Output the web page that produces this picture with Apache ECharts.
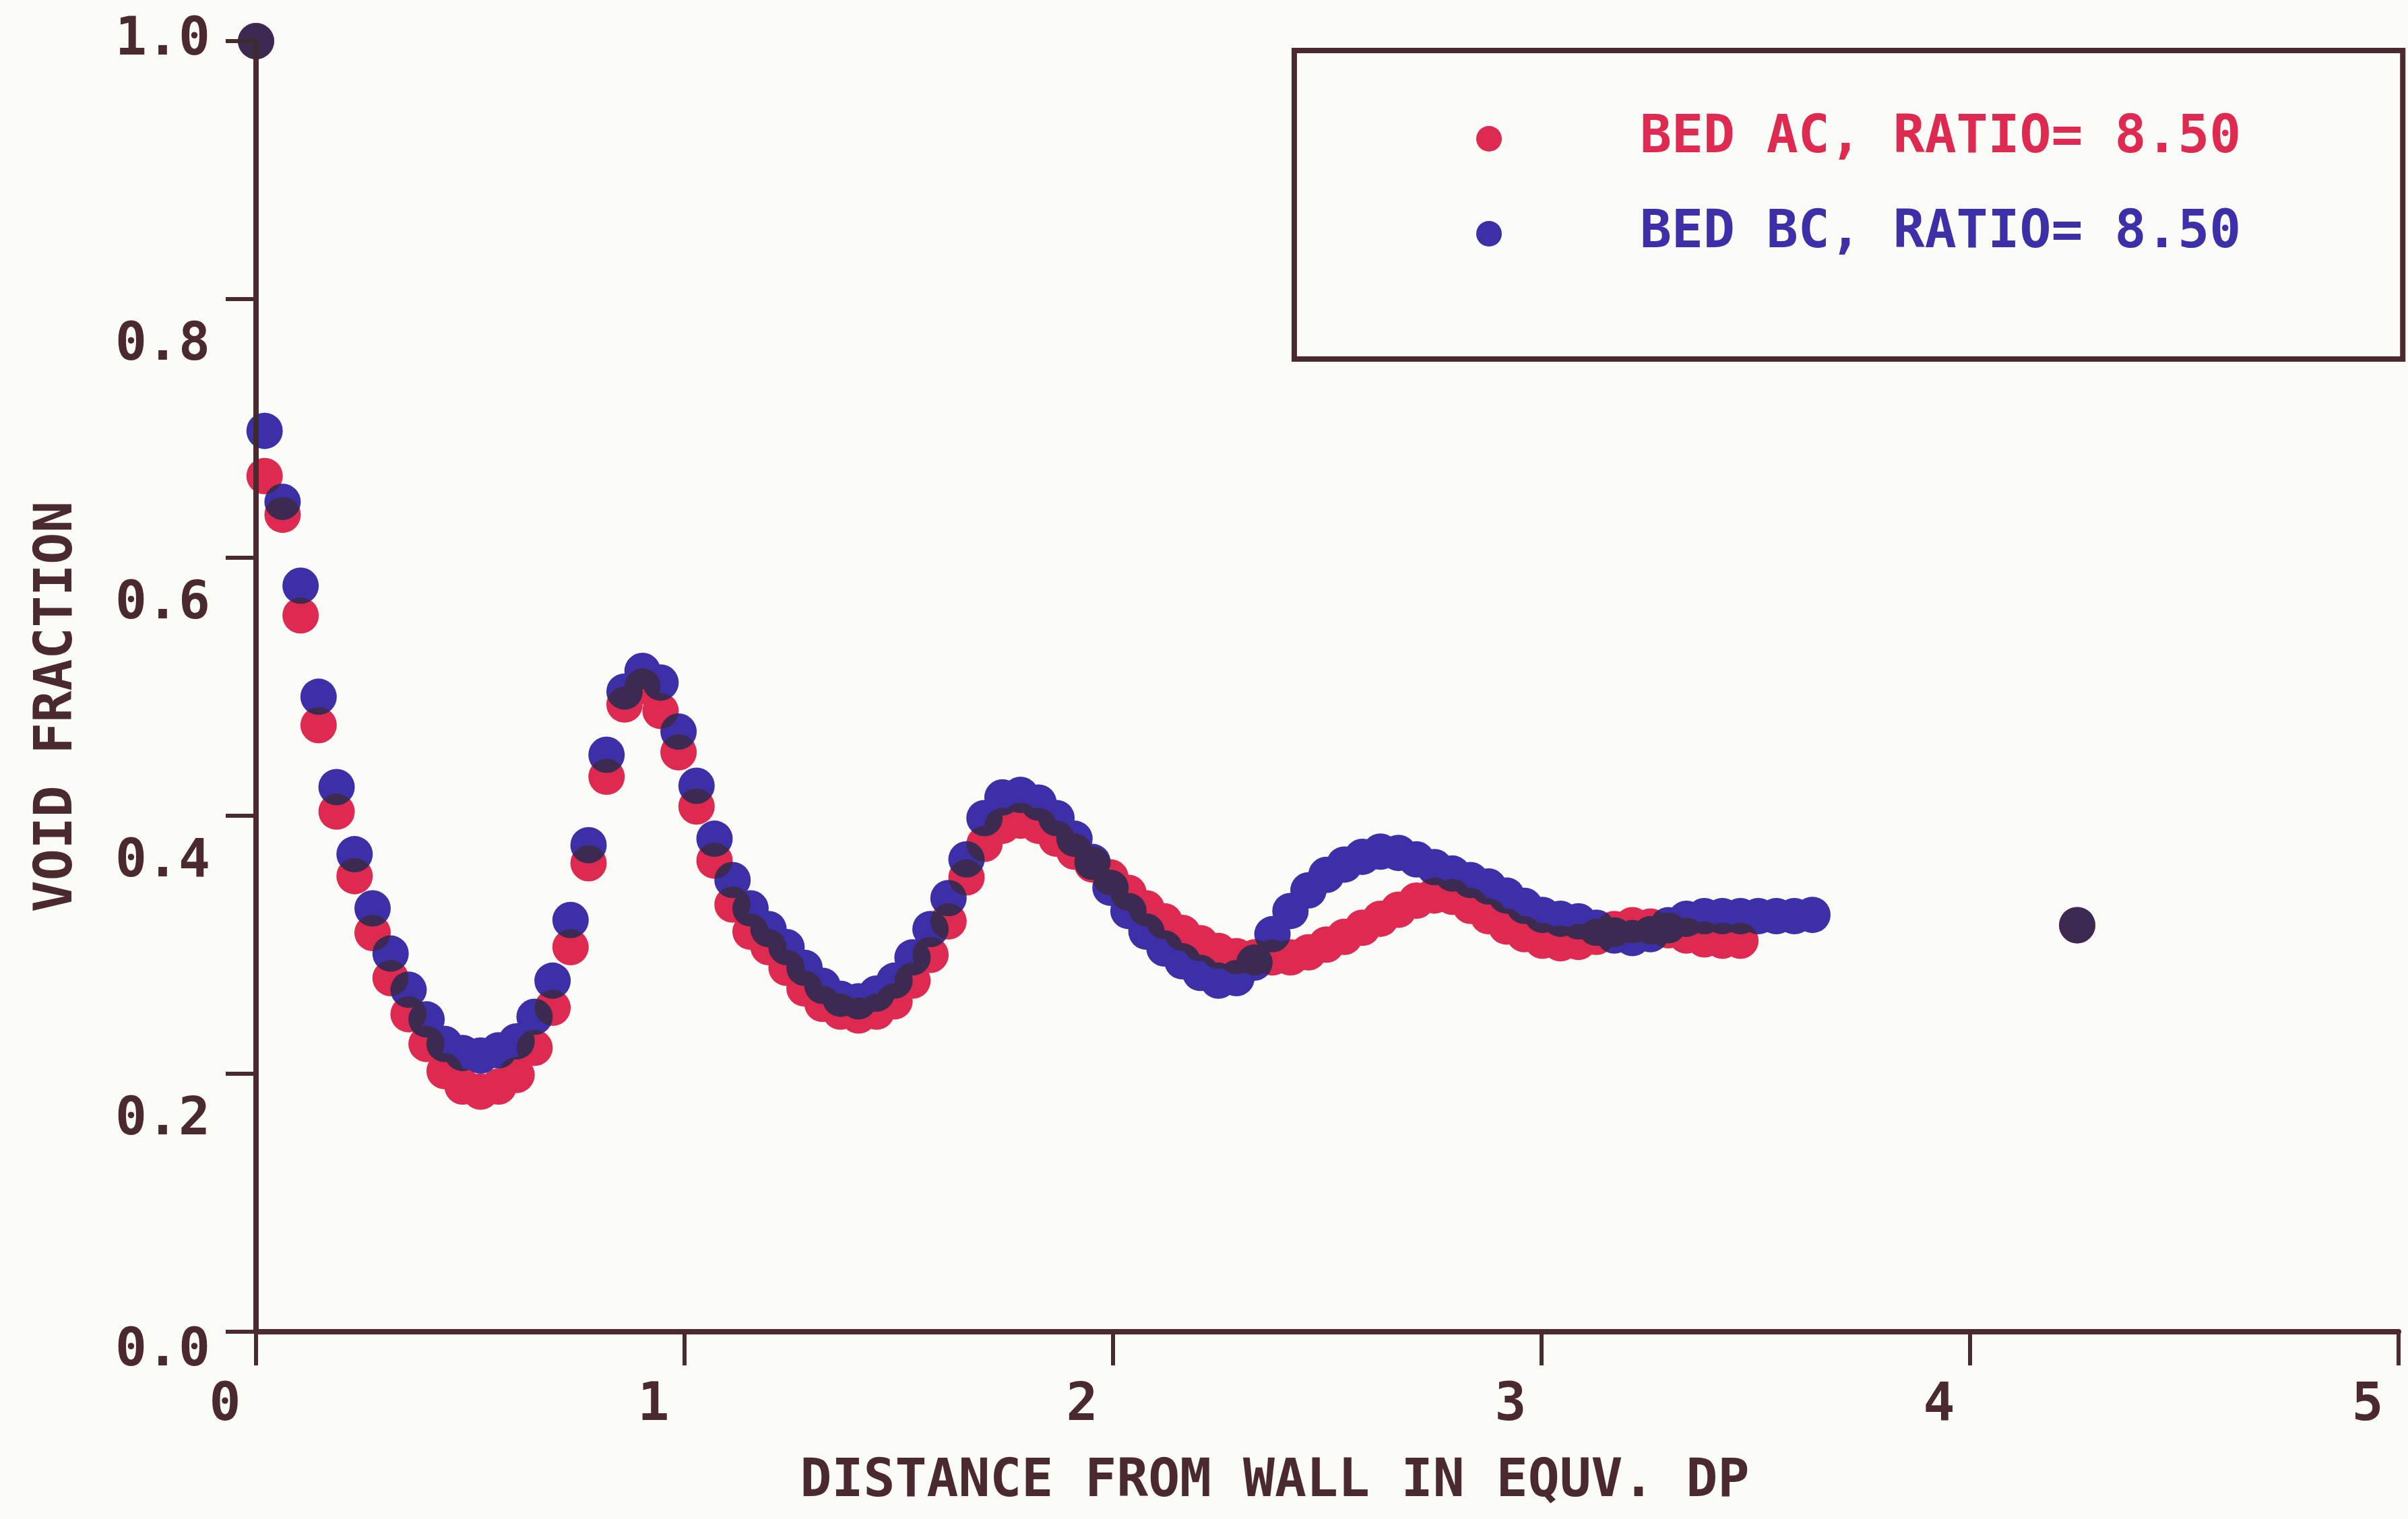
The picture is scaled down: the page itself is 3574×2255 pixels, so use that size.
<!DOCTYPE html>
<html>
<head>
<meta charset="utf-8">
<title>Void fraction profile</title>
<script src="https://cdn.jsdelivr.net/npm/echarts@6/dist/echarts.min.js"></script>
<style>
  html, body { margin: 0; padding: 0; background: #fbfbf7; }
  #chart { width: 3574px; height: 2255px; }
</style>
</head>
<body>
<div id="chart"></div>
<script>
  // distance from wall (equivalent particle diameters), one entry per measured ring
  const dist = [
    0.020, 0.062, 0.104, 0.146, 0.188, 0.230, 0.272, 0.314, 0.356, 0.398,
    0.440, 0.482, 0.524, 0.566, 0.608, 0.650, 0.692, 0.734, 0.776, 0.818,
    0.860, 0.902, 0.944, 0.986, 1.028, 1.070, 1.112, 1.154, 1.196, 1.238,
    1.280, 1.322, 1.364, 1.406, 1.448, 1.490, 1.532, 1.574, 1.616, 1.658,
    1.700, 1.742, 1.784, 1.826, 1.868, 1.910, 1.952, 1.994, 2.036, 2.078,
    2.120, 2.162, 2.204, 2.246, 2.288, 2.330, 2.372, 2.414, 2.456, 2.498,
    2.540, 2.582, 2.624, 2.666, 2.708, 2.750, 2.792, 2.834, 2.876, 2.918,
    2.960, 3.002, 3.044, 3.086, 3.128, 3.170, 3.212, 3.254, 3.296, 3.338,
    3.380, 3.422, 3.464, 3.506, 3.548, 3.590, 3.632
  ];

  // bed AC void fraction
  const voidAC = [
    0.663, 0.633, 0.555, 0.470, 0.403, 0.353, 0.309, 0.274, 0.246, 0.223,
    0.202, 0.190, 0.186, 0.190, 0.199, 0.220, 0.251, 0.298, 0.363, 0.430,
    0.486, 0.500, 0.481, 0.449, 0.407, 0.365, 0.331, 0.310, 0.298, 0.282,
    0.266, 0.254, 0.248, 0.245, 0.248, 0.256, 0.272, 0.292, 0.318, 0.352,
    0.378, 0.392, 0.396, 0.392, 0.382, 0.372, 0.362, 0.352, 0.340, 0.328,
    0.318, 0.309, 0.301, 0.295, 0.291, 0.290, 0.290, 0.290, 0.294, 0.300,
    0.306, 0.313, 0.320, 0.327, 0.334, 0.338, 0.337, 0.330, 0.322, 0.314,
    0.308, 0.303, 0.301, 0.302, 0.306, 0.312, 0.315, 0.314, 0.311, 0.307,
    0.304, 0.303, 0.303
  ];

  // bed BC void fraction
  const voidBC = [
    0.698, 0.643, 0.578, 0.492, 0.422, 0.370, 0.328, 0.293, 0.265, 0.242,
    0.223, 0.216, 0.214, 0.218, 0.225, 0.244, 0.272, 0.319, 0.377, 0.447,
    0.496, 0.512, 0.503, 0.465, 0.423, 0.382, 0.350, 0.328, 0.312, 0.298,
    0.282, 0.268, 0.258, 0.256, 0.262, 0.272, 0.290, 0.312, 0.336, 0.366,
    0.398, 0.414, 0.416, 0.410, 0.398, 0.382, 0.364, 0.344, 0.326, 0.310,
    0.297, 0.287, 0.278, 0.272, 0.274, 0.286, 0.308, 0.326, 0.342, 0.354,
    0.362, 0.368, 0.372, 0.371, 0.366, 0.360, 0.355, 0.350, 0.345, 0.338,
    0.330, 0.323, 0.320, 0.318, 0.313, 0.307, 0.305, 0.308, 0.315, 0.320,
    0.322, 0.322, 0.322, 0.322, 0.322, 0.322, 0.323
  ];

  // wall point and bed-centre point, shared by both beds
  const wallPoint = [0, 1.0];
  const centrePoint = [4.25, 0.315];

  const names = ['BED AC, RATIO= 8.50', 'BED BC, RATIO= 8.50'];
  const xTicks = [0, 1, 2, 3, 4, 5];

  const red = '#de2a50';
  const blue = '#3c2fa8';
  const ink = '#4a2a2e';
  const font = "'DejaVu Sans Mono', monospace";

  function points(vals) {
    let pts = [wallPoint];
    vals.forEach((v, i) => pts.push([dist[i], v]));
    pts.push(centrePoint);
    return pts;
  }

  let myChart = echarts.init(document.getElementById('chart'));
  let option = {
    animation: false,
    backgroundColor: '#fbfbf7',
    grid: { left: 380, right: 14, top: 61, bottom: 278 },
    legend: {
      orient: 'vertical',
      left: 1921,
      top: 75,
      padding: [90, 240, 145, 270],
      borderColor: ink,
      borderWidth: 8,
      itemWidth: 38,
      itemHeight: 42,
      itemGap: 59,
      selectedMode: false,
      textStyle: {
        fontSize: 78, fontFamily: font, fontWeight: 'bold',
        lineHeight: 82, padding: [0, 0, 0, 200]
      },
      data: [
        { name: names[0], icon: 'circle', textStyle: { color: red } },
        { name: names[1], icon: 'circle', textStyle: { color: blue } }
      ]
    },
    xAxis: {
      type: 'value',
      min: xTicks[0],
      max: xTicks[xTicks.length - 1],
      interval: 1,
      name: 'DISTANCE FROM WALL IN EQUV. DP',
      nameLocation: 'middle',
      nameGap: 185,
      nameTextStyle: {
        color: ink, fontSize: 78, fontFamily: font, fontWeight: 'bold',
        padding: [0, 156, 0, 0]
      },
      splitLine: { show: false },
      axisLine: { onZero: false, lineStyle: { color: ink, width: 8 } },
      axisTick: { length: 50, lineStyle: { color: ink, width: 6 } },
      axisLabel: {
        color: ink, fontSize: 78, fontFamily: font, fontWeight: 'bold',
        margin: 72, padding: [0, 92, 0, 0],
        formatter: v => String(v)
      }
    },
    yAxis: {
      type: 'value',
      min: 0,
      max: 1,
      interval: 0.2,
      name: 'VOID FRACTION',
      nameLocation: 'middle',
      nameGap: 255,
      nameTextStyle: {
        color: ink, fontSize: 78, fontFamily: font, fontWeight: 'bold',
        padding: [0, 60, 0, 0]
      },
      splitLine: { show: false },
      axisLine: { lineStyle: { color: ink, width: 8 } },
      axisTick: { length: 45, lineStyle: { color: ink, width: 6 } },
      axisLabel: {
        color: ink, fontSize: 78, fontFamily: font, fontWeight: 'bold',
        margin: 68,
        formatter: v => {
          let s = v.toFixed(1);
          if (v >= 1) return '{top|' + s + '}';
          if (v <= 0) return '{zero|' + s + '}';
          return '{low|' + s + '}';
        },
        rich: {
          top: { fontSize: 78, fontFamily: font, fontWeight: 'bold', color: ink },
          zero: { fontSize: 78, fontFamily: font, fontWeight: 'bold', color: ink, padding: [60, 0, 0, 0] },
          low: { fontSize: 78, fontFamily: font, fontWeight: 'bold', color: ink, padding: [140, 0, 0, 0] }
        }
      }
    },
    series: [
      {
        name: names[0],
        type: 'scatter',
        data: points(voidAC),
        symbol: 'circle',
        symbolSize: 54,
        clip: false,
        blendMode: 'darken',
        itemStyle: { color: red, opacity: 1 }
      },
      {
        name: names[1],
        type: 'scatter',
        data: points(voidBC),
        symbol: 'circle',
        symbolSize: 54,
        clip: false,
        blendMode: 'darken',
        itemStyle: { color: blue, opacity: 1 }
      }
    ]
  };
  myChart.setOption(option);
</script>
</body>
</html>
